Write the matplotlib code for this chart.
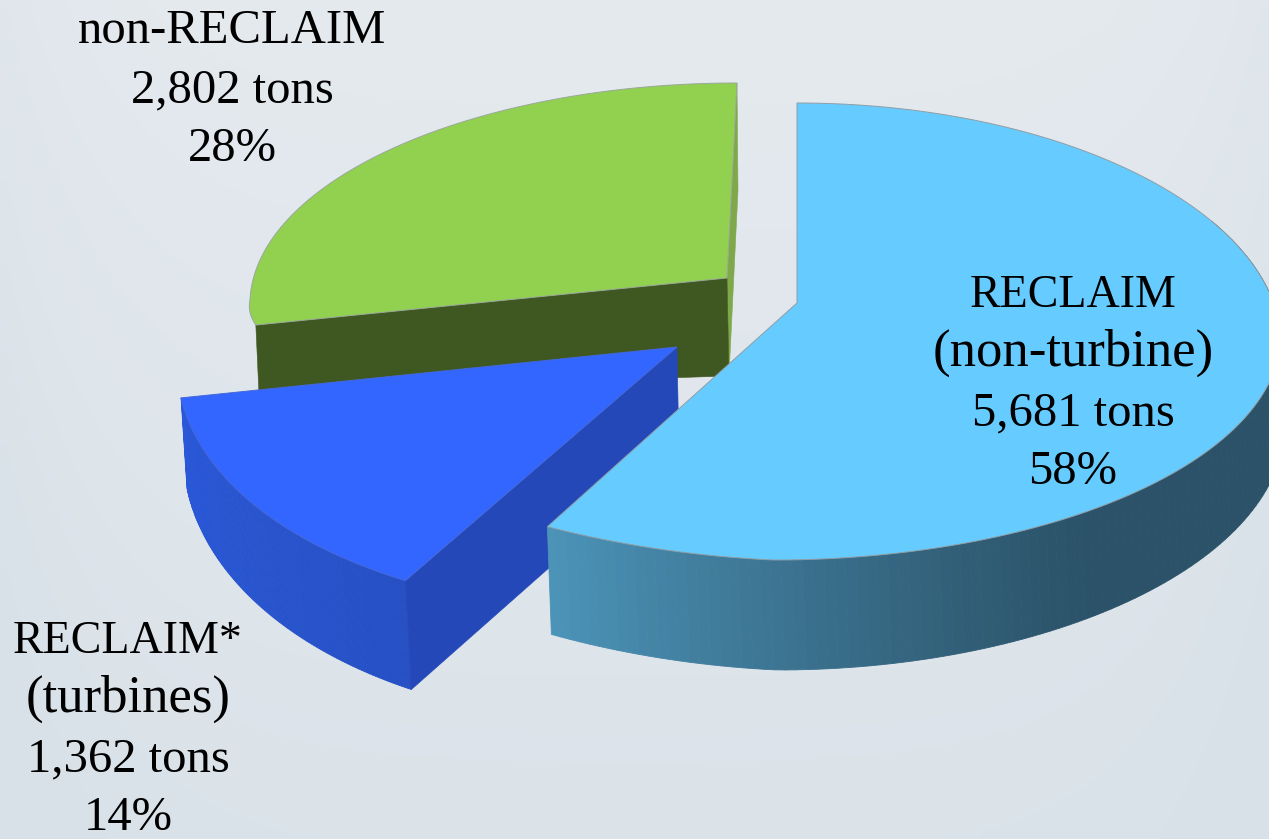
import numpy as np
import matplotlib
matplotlib.use("Agg")
import matplotlib.pyplot as plt
from matplotlib.colors import to_rgb

# --- data ---
categories = ["RECLAIM\n(non-turbine)", "RECLAIM*\n(turbines)", "non-RECLAIM"]
tons = [5681, 1362, 2802]
shares = [58, 14, 28]

# --- style / layout (pixel space of the slide) ---
W, H = 1269, 839
TOP_COLORS = ["#66ccff", "#3366ff", "#92d050"]
GEOM = [
    dict(apex=(797, 303), a=484, k=0.02, c=37, bt=237, bb=220, st=0, sb=23, ty=22, d0=90, d1=20, dx=4),
    dict(apex=(677, 347), a=498, k=0.0, c=-8, bt=200, bb=273, st=0, sb=45, ty=0, d0=85, d1=27, dx=6),
    dict(apex=(727, 278), a=477, k=0.0, c=22, bt=217, bb=116, st=10, sb=25, ty=0, d0=60, d1=25, dx=3),
]
LABELS = [(1073, 307), (128, 653), (232, 43)]
LINE = 59


def font_size(s):
    if s.startswith("("):
        return 38
    if s.startswith("non") or s[0].isdigit():
        return 35
    return 33


fig = plt.figure(figsize=(W / 100, H / 100), dpi=100)
ax = fig.add_axes([0, 0, 1, 1])
ax.set_xlim(0, W)
ax.set_ylim(H, 0)
ax.axis("off")

# background
yy, xx = np.mgrid[0:1:60j, 0:1:90j]
edge = np.minimum(xx, 1 - xx)
c0 = np.array([232, 236, 240]) / 255
c1 = np.array([216, 225, 232]) / 255
t = np.clip(0.2 + 0.6 * yy + 0.3 * np.exp(-edge / 0.08), 0, 1)[..., None]
ax.imshow(c0 * (1 - t) + c1 * t, extent=[0, W, H, 0], aspect="auto",
          interpolation="bilinear", zorder=0)


def rim(g, th):
    u, v = np.sin(th), np.cos(th)
    b = np.where(v > 0, g["bt"], g["bb"])
    s = np.where(v > 0, g["st"], g["sb"])
    ex = np.where(v < 0, g["ty"] * np.minimum(u, 0) * v ** 2, 0)
    x = g["apex"][0] + g["a"] * (1 - g["k"] * v) * u + s * v
    y = g["apex"][1] + g["c"] - b * v + ex
    return x, y


def down(g, th):
    return g["d0"] - g["d1"] * np.cos(th)


def wall(g, th0, th1, colfun, z):
    ths = np.linspace(th0, th1, 120)
    x, y = rim(g, ths)
    d = down(g, ths)
    for i in range(len(ths) - 1):
        c = colfun((i + 0.5) / (len(ths) - 1))
        ax.fill([x[i], x[i + 1], x[i + 1] + g["dx"], x[i] + g["dx"]],
                [y[i], y[i + 1], y[i + 1] + d[i + 1], y[i] + d[i]],
                color=c, lw=0.6, zorder=z)


def mix(a, b, t):
    a, b = np.array(to_rgb(a)), np.array(to_rgb(b))
    return tuple(a + (b - a) * t)


fr = np.array(tons) / sum(tons)
bounds = np.concatenate([[0], np.cumsum(fr)]) * 2 * np.pi


def top(g, th0, th1, color, z, edge):
    ths = np.linspace(th0, th1, 300)
    x, y = rim(g, ths)
    ax.fill(np.r_[g["apex"][0], x], np.r_[g["apex"][1], y], facecolor=color,
            edgecolor=edge, lw=0.7, zorder=z)


# green slice (back)
g = GEOM[2]
th0, th1 = bounds[2], bounds[3]
lx, ly = rim(g, th0)
tx, ty = rim(g, th1 - 1e-6)
ax.fill([g["apex"][0], tx, tx + 1, g["apex"][0] + 2],
        [g["apex"][1], ty, ty + 107, g["apex"][1] + 98], color="#7fa84a", lw=0.4, zorder=2)
ax.fill([lx, g["apex"][0], g["apex"][0] + 2, lx + g["dx"]],
        [ly, g["apex"][1], g["apex"][1] + 98, ly + down(g, th0)],
        color="#3f5720", lw=0.4, zorder=3)
top(g, th0, th1 - 1e-6, TOP_COLORS[2], 4, "#9aa89a")

# blue slice (exploded front left)
g = GEOM[1]
th0, th1 = bounds[1], bounds[2]
wall(g, th0, th1, lambda t: mix("#2650c4", "#2a58d8", t), 5)
bx, by = rim(g, th0)
ax.fill([g["apex"][0], bx, bx + g["dx"], g["apex"][0] + 2],
        [g["apex"][1], by, by + down(g, th0), g["apex"][1] + 106],
        color="#2448b8", lw=0.4, zorder=6)
top(g, th0, th1, TOP_COLORS[1], 7, "#4468d8")

# light blue slice (front right)
g = GEOM[0]
th0, th1 = bounds[0] + 1e-6, bounds[1]
wall(g, np.deg2rad(60), th1,
     lambda t: mix("#2b5268", "#4c94b9", np.clip((t - 0.55) / 0.45, 0, 1) ** 1.2), 8)
top(g, th0, th1, TOP_COLORS[0], 9, "#8f9ea6")

# labels
for name, val, pct, (cx, y0) in zip(categories, tons, shares, LABELS):
    lines = name.split("\n") + [f"{val:,} tons", f"{pct}%"]
    for i, s in enumerate(lines):
        ax.text(cx, y0 + i * LINE, s, ha="center", va="baseline", color="black",
                fontsize=font_size(s), family="Liberation Serif", zorder=12)

fig.savefig("out.png", dpi=100)
